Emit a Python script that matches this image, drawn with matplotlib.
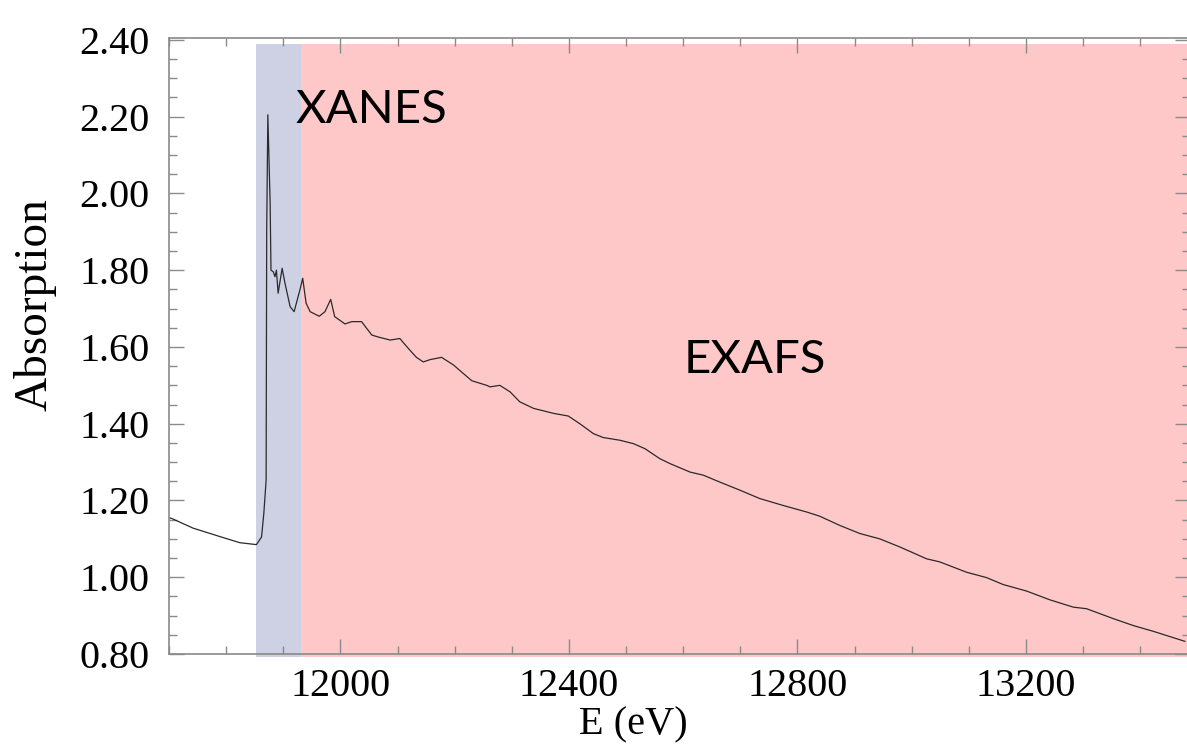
import matplotlib
matplotlib.use("Agg")
import matplotlib.pyplot as plt
from matplotlib.patches import Rectangle
from matplotlib.ticker import MultipleLocator, FormatStrFormatter

# X-ray absorption spectrum (energy in eV, absorption in arbitrary units)
energy = [
    11700, 11705, 11742, 11789, 11824, 11853, 11862, 11866, 11868, 11870,
    11871, 11873, 11877, 11878.5, 11882.5, 11885.5, 11888, 11891, 11898, 11903,
    11912, 11919, 11929, 11934, 11940, 11947, 11963, 11973, 11983, 11990,
    12008, 12020, 12037, 12055, 12066, 12087, 12104, 12119, 12133, 12145,
    12157, 12177, 12198, 12215, 12230, 12256, 12262, 12279, 12297, 12314,
    12338, 12373, 12399, 12419, 12443, 12460, 12489, 12513, 12533, 12559,
    12577, 12612, 12635, 12664, 12699, 12734, 12775, 12816, 12839, 12874,
    12909, 12944, 12979, 13026, 13049, 13096, 13131, 13160, 13201, 13242,
    13283, 13306, 13353, 13388, 13423, 13478,
]
absorption = [
    1.155, 1.153, 1.128, 1.106, 1.090, 1.085, 1.105, 1.167, 1.210, 1.253,
    1.905, 2.205, 1.975, 1.800, 1.796, 1.783, 1.800, 1.740, 1.805, 1.766,
    1.705, 1.692, 1.748, 1.779, 1.714, 1.692, 1.680, 1.692, 1.724, 1.679,
    1.660, 1.666, 1.666, 1.631, 1.626, 1.618, 1.622, 1.596, 1.573, 1.561,
    1.567, 1.573, 1.553, 1.531, 1.512, 1.500, 1.496, 1.500, 1.483, 1.457,
    1.440, 1.427, 1.420, 1.400, 1.374, 1.364, 1.357, 1.348, 1.335, 1.309,
    1.296, 1.274, 1.266, 1.248, 1.227, 1.205, 1.187, 1.170, 1.159, 1.135,
    1.114, 1.100, 1.079, 1.048, 1.040, 1.013, 0.999, 0.981, 0.964, 0.941,
    0.922, 0.918, 0.892, 0.874, 0.859, 0.833,
]

# Spectral regions
xanes_range = (11852, 11931)
exafs_range = (11931, 13600)
region_labels = ["XANES", "EXAFS"]

x_limits = (11700, 13487)
y_limits = (0.80, 2.405)

W, H = 1187, 744
fig = plt.figure(figsize=(W / 100, H / 100), dpi=100)
left, right, bottom, top = 169, 1190, 654, 38
ax = fig.add_axes([left / W, (H - bottom) / H, (right - left) / W, (bottom - top) / H])
ax.set_xlim(*x_limits)
ax.set_ylim(*y_limits)

# Shaded regions
band_lo, band_hi = 0.792, 2.39
ax.add_patch(Rectangle((xanes_range[0], band_lo), xanes_range[1] - xanes_range[0],
                       band_hi - band_lo, facecolor="#cdd1e3", edgecolor="none",
                       clip_on=False, zorder=1))
ax.add_patch(Rectangle((exafs_range[0], band_lo), exafs_range[1] - exafs_range[0],
                       band_hi - band_lo, facecolor="#fec8c8", edgecolor="none",
                       clip_on=False, zorder=1))

ax.plot(energy, absorption, color="#2a2a2a", lw=0.9, zorder=3)

ax.text(11921, 2.218, region_labels[0], fontsize=34, family="Lato",
        va="center", ha="left", color="black", zorder=4)
ax.text(12600, 1.565, region_labels[1], fontsize=34, family="Lato",
        va="center", ha="left", color="black", zorder=4)

# Axes styling
serif = "Liberation Serif"
spine_color = "#8a8a8a"
for s in ax.spines.values():
    s.set_color(spine_color)
    s.set_linewidth(1.2)
    s.set_zorder(5)

ax.xaxis.set_major_locator(MultipleLocator(400))
ax.xaxis.set_minor_locator(MultipleLocator(100))
ax.yaxis.set_major_locator(MultipleLocator(0.2))
ax.yaxis.set_minor_locator(MultipleLocator(0.05))
ax.yaxis.set_major_formatter(FormatStrFormatter("%.2f"))

ax.tick_params(which="both", direction="in", top=True, right=True,
               color=spine_color, width=1.0)
ax.tick_params(which="major", length=11)
ax.tick_params(which="minor", length=6)
ax.tick_params(axis="y", which="major", pad=14, labelsize=29)
ax.tick_params(axis="x", which="major", pad=10, labelsize=29)
for lbl in ax.get_xticklabels() + ax.get_yticklabels():
    lbl.set_family(serif)

ax.set_xlabel("E (eV)", fontsize=29, family=serif)
ax.set_ylabel("Absorption", fontsize=34, family=serif)
ax.xaxis.set_label_coords(0.455, -0.085)
ax.yaxis.set_label_coords(-0.131, 0.567)
ax.yaxis.label.set_va("center")

fig.savefig("out.png", dpi=100)
